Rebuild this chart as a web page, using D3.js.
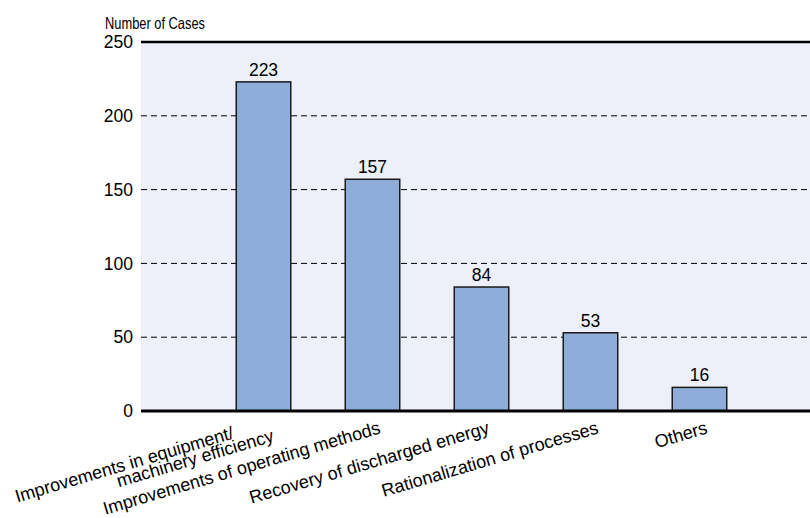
<!DOCTYPE html>
<html>
<head>
<meta charset="utf-8">
<script src="https://cdn.jsdelivr.net/npm/d3@7/dist/d3.min.js"></script>
<style>
  html, body { margin: 0; padding: 0; background: #ffffff; }
  svg { display: block; }
  text { font-family: "Liberation Sans", Arial, Helvetica, sans-serif; fill: #000; }
</style>
</head>
<body>
<svg id="chart" width="810" height="518"></svg>
<script>
// Energy-saving case counts by category
const categories = [
  ["Improvements in equipment/", "machinery efficiency"],
  ["Improvements of operating methods"],
  ["Recovery of discharged energy"],
  ["Rationalization of processes"],
  ["Others"]
];
const cases = [223, 157, 84, 53, 16];
const yTicks = [0, 50, 100, 150, 200, 250];
const yTitle = "Number of Cases";

const W = 810, H = 518;
const plot = { left: 141, right: 822, top: 42, bottom: 411 };

const svg = d3.select("#chart");

const keys = categories.map((c, i) => i);
const x = d3.scaleBand()
  .domain(keys)
  .range([plot.left, plot.right])
  .paddingInner(0.5)
  .paddingOuter(0.874);

const y = d3.scaleLinear()
  .domain([0, 250])
  .range([plot.bottom, plot.top]);

// plot background
svg.append("rect")
  .attr("x", plot.left)
  .attr("y", plot.top)
  .attr("width", plot.right - plot.left)
  .attr("height", plot.bottom - plot.top)
  .attr("fill", "#edf0f8");

// horizontal grid: dashed inner lines, solid top line
const grid = svg.append("g");
grid.selectAll("line")
  .data(yTicks.filter(t => t > 0))
  .join("line")
  .attr("x1", plot.left)
  .attr("x2", plot.right)
  .attr("y1", d => y(d))
  .attr("y2", d => y(d))
  .attr("stroke", "#000")
  .attr("stroke-width", d => d === 250 ? 2.5 : 1)
  .attr("stroke-dasharray", d => d === 250 ? null : "6,4");

// y axis labels
const yAxis = d3.axisLeft(y).tickValues(yTicks).tickSize(0).tickPadding(8);
const yg = svg.append("g")
  .attr("transform", `translate(${plot.left},0)`)
  .call(yAxis);
yg.select(".domain").remove();
yg.selectAll("text")
  .style("font-family", "'Liberation Sans', Arial, sans-serif")
  .style("font-size", "17.5px")
  .attr("fill", "#000");

// axis title
svg.append("text")
  .attr("x", 105)
  .attr("y", 29)
  .attr("textLength", 100)
  .attr("lengthAdjust", "spacingAndGlyphs")
  .style("font-family", "'Liberation Sans Narrow', 'Liberation Sans', Arial, sans-serif")
  .style("font-size", "16.5px")
  .text(yTitle);

// bars
svg.append("g")
  .selectAll("rect")
  .data(cases)
  .join("rect")
  .attr("x", (d, i) => x(i))
  .attr("y", d => y(d))
  .attr("width", x.bandwidth())
  .attr("height", d => y(0) - y(d))
  .attr("fill", "#8fadd9")
  .attr("stroke", "#1a1a1a")
  .attr("stroke-width", 1.5);

// value labels
svg.append("g")
  .selectAll("text")
  .data(cases)
  .join("text")
  .attr("x", (d, i) => x(i) + x.bandwidth() / 2)
  .attr("y", d => y(d) - 6)
  .attr("text-anchor", "middle")
  .style("font-size", "17.5px")
  .text(d => d);

// baseline
svg.append("line")
  .attr("x1", plot.left)
  .attr("x2", plot.right)
  .attr("y1", y(0))
  .attr("y2", y(0))
  .attr("stroke", "#000")
  .attr("stroke-width", 3);

// rotated category labels
const angle = -16.5;
const lineGap = 14.2;
const labels = svg.append("g")
  .selectAll("g")
  .data(categories)
  .join("g")
  .attr("transform", (d, i) =>
    `translate(${x(i) + x.bandwidth() / 2 + 9},${y(0) + 22}) rotate(${angle})`);

labels.each(function(lines) {
  const g = d3.select(this);
  const n = lines.length;
  lines.forEach((line, j) => {
    const v = n === 1 ? 0 : (j - (n - 1) / 2) * lineGap + 1.3;
    // the upper line of a wrapped label sits further back along the baseline
    const u = n > 1 && j === 0 ? -37.5 : 0;
    g.append("text")
      .attr("x", u)
      .attr("y", v)
      .attr("text-anchor", "end")
      .style("font-size", "18px")
      .text(line);
  });
});
</script>
</body>
</html>
